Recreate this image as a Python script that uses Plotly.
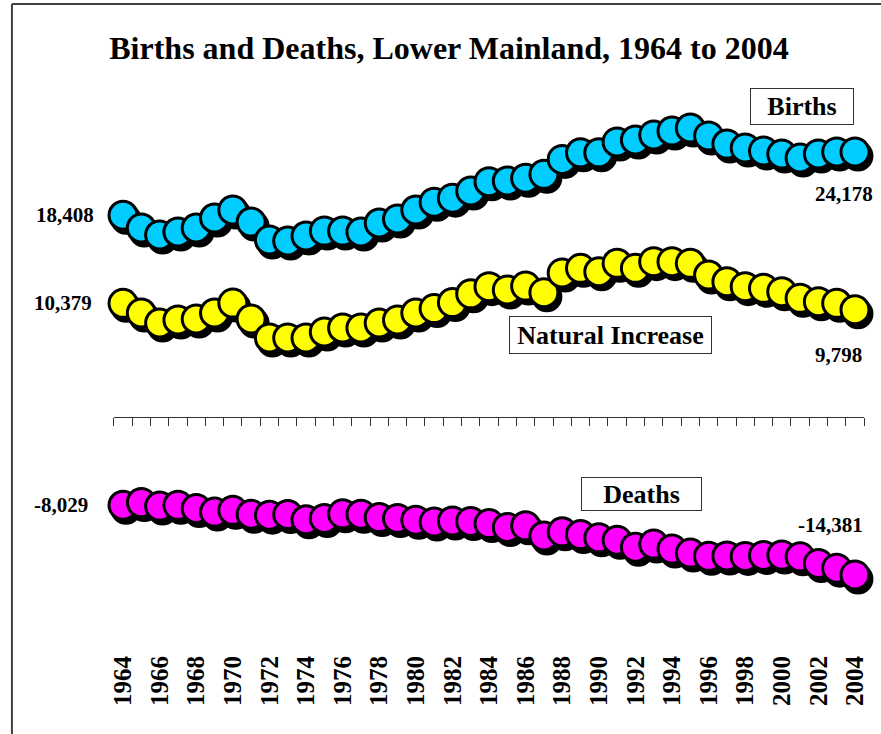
import plotly.graph_objects as go

# ---------------- data ----------------
years = list(range(1964, 2005))
births = [18408, 17250, 16610, 16880, 17250, 18160, 18890, 17790, 16150, 16060,
          16520, 16970, 16970, 16880, 17700, 18070, 18890, 19600, 19970, 20620,
          21470, 21530, 21780, 22140, 23500, 24100, 24100, 25090, 25270, 25730,
          26090, 26360, 25640, 24900, 24540, 24270, 23990, 23630, 23990, 24180,
          24178]
natural_increase = [10379, 9500, 8590, 8860, 8950, 9500, 10400, 8950, 7220, 7220,
                    7220, 7770, 8130, 8130, 8590, 8860, 9500, 9900, 10450, 11250,
                    11900, 11600, 11950, 11350, 13150, 13570, 13260, 14030, 13570, 14180,
                    14180, 14030, 12960, 12350, 11900, 11750, 11440, 10840, 10530, 10380,
                    9798]
deaths = [-8029, -7780, -8100, -8030, -8320, -8650, -8490, -8850, -8930, -8870,
          -9350, -9230, -8810, -8850, -9150, -9230, -9390, -9550, -9460, -9500,
          -9700, -10050, -9900, -10830, -10450, -10700, -11000, -11220, -11850, -11570,
          -12020, -12390, -12680, -12650, -12690, -12600, -12570, -12730, -13330, -13760,
          -14381]
tick_years = list(range(1964, 2005, 2))
series_names = ["Births", "Natural Increase", "Deaths"]

# ---------------- layout constants ----------------
W, H = 881, 734
FONT = "Liberation Serif, Times New Roman, serif"
PLOT_L, PLOT_R = 110, 868          # pixel edges of category axis
PLOT_T, PLOT_B = 40, 700           # pixel extent of value axis domain
ZERO_PX = 417.2
PX_PER_UNIT = 0.01097
SH_DX, SH_DY = 3, 4                # shadow offset (px)

y_max = (ZERO_PX - PLOT_T) / PX_PER_UNIT
y_min = -(PLOT_B - ZERO_PX) / PX_PER_UNIT
x_rng = [years[0] - 0.5, years[-1] + 0.5]

def fx(px):
    return px / W

def fy(py):
    return 1 - py / H

dom_x = [fx(PLOT_L), fx(PLOT_R)]
dom_y = [fy(PLOT_B), fy(PLOT_T)]
dom_xs = [fx(PLOT_L + SH_DX), fx(PLOT_R + SH_DX)]
dom_ys = [fy(PLOT_B + SH_DY), fy(PLOT_T + SH_DY)]

colors = ["#00CCFF", "#FFFF00", "#FF00FF"]
data = [births, natural_increase, deaths]

fig = go.Figure()

# shadows (drawn first, on shifted subplot)
for vals in data:
    fig.add_trace(go.Scatter(
        x=years, y=vals, mode="markers", xaxis="x", yaxis="y",
        marker=dict(size=28, color="black", line=dict(color="black", width=3)),
        hoverinfo="skip", showlegend=False, cliponaxis=False))

# markers
for name, vals, c in zip(series_names, data, colors):
    fig.add_trace(go.Scatter(
        x=years, y=vals, mode="markers", name=name, xaxis="x2", yaxis="y2",
        marker=dict(size=28, color=c, line=dict(color="black", width=3)),
        showlegend=False, cliponaxis=False))

# dummy trace for label axis
fig.add_trace(go.Scatter(x=[], y=[], xaxis="x3", yaxis="y2", showlegend=False))

zero_pos = dom_y[0] + (0 - y_min) / (y_max - y_min) * (dom_y[1] - dom_y[0])
boundaries = [y + 0.5 for y in [years[0] - 1] + years]

hidden = dict(visible=False, showgrid=False, zeroline=False)

fig.update_layout(
    width=W, height=H, autosize=False,
    margin=dict(l=0, r=0, t=0, b=0),
    paper_bgcolor="white", plot_bgcolor="rgba(0,0,0,0)",
    showlegend=False,
    title=dict(text="<b>Births and Deaths, Lower Mainland, 1964 to 2004</b>",
               x=fx(449), xanchor="center", y=fy(48), yanchor="middle",
               font=dict(family=FONT, size=32, color="black")),
    xaxis=dict(domain=dom_xs, range=x_rng, anchor="y", **hidden),
    yaxis=dict(domain=dom_ys, range=[y_min, y_max], anchor="x", **hidden),
    xaxis2=dict(domain=dom_x, range=x_rng, anchor="free", position=zero_pos,
                showgrid=False, zeroline=False, showline=True, linecolor="#333",
                linewidth=1, ticks="outside", ticklen=8, tickwidth=1, tickcolor="#333",
                tickmode="array", tickvals=boundaries, showticklabels=False),
    yaxis2=dict(domain=dom_y, range=[y_min, y_max], anchor="x2", **hidden),
    xaxis3=dict(overlaying="x2", range=x_rng, anchor="free", position=fy(650),
                showgrid=False, zeroline=False, showline=False, ticks="",
                tickmode="array", tickvals=tick_years,
                ticktext=[f"<b>{y}</b>" for y in tick_years], tickangle=-90,
                tickfont=dict(family=FONT, size=25, color="black")),
)

# frame
fig.add_shape(type="line", xref="paper", yref="paper", x0=fx(7), x1=1.01,
              y0=fy(4), y1=fy(4), line=dict(color="#404040", width=2))
fig.add_shape(type="line", xref="paper", yref="paper", x0=fx(7), x1=fx(7),
              y0=fy(4), y1=-0.01, line=dict(color="#404040", width=2))

lab_font = dict(family=FONT, size=21, color="black")
# first-value labels (left of first point)
for vals, xs in zip(data, [-27, -29, -33]):
    fig.add_annotation(x=years[0], y=vals[0], xref="x2", yref="y2",
                       text=f"<b>{vals[0]:,}</b>", showarrow=False,
                       xanchor="right", yanchor="middle", xshift=xs,
                       font=lab_font)
# last-value labels
for vals, xs, ys in zip(data, [-11, -16, -24], [-42, -45, 50]):
    fig.add_annotation(x=years[-1], y=vals[-1], xref="x2", yref="y2",
                       text=f"<b>{vals[-1]:,}</b>", showarrow=False,
                       xanchor="center", yanchor="middle", xshift=xs, yshift=ys,
                       font=lab_font)

# series name boxes
boxes = [("Births", 805, 106.5, 104, 37),
         ("Natural Increase", 611.5, 335, 203, 38),
         ("Deaths", 643.5, 494, 121, 34)]
for txt, cx, cy, bw, bh in boxes:
    fig.add_annotation(x=fx(cx), y=fy(cy), xref="paper", yref="paper",
                       text=f"<b>{txt}</b>", showarrow=False,
                       xanchor="center", yanchor="middle",
                       width=bw - 2, height=bh - 2, borderpad=0,
                       bordercolor="#333", borderwidth=1, bgcolor="white",
                       font=dict(family=FONT, size=26, color="black"))

fig.write_html("out.html",
               config={"displayModeBar": False},
               post_script="document.body.style.margin='0';"
                           "document.body.style.overflow='hidden';")
